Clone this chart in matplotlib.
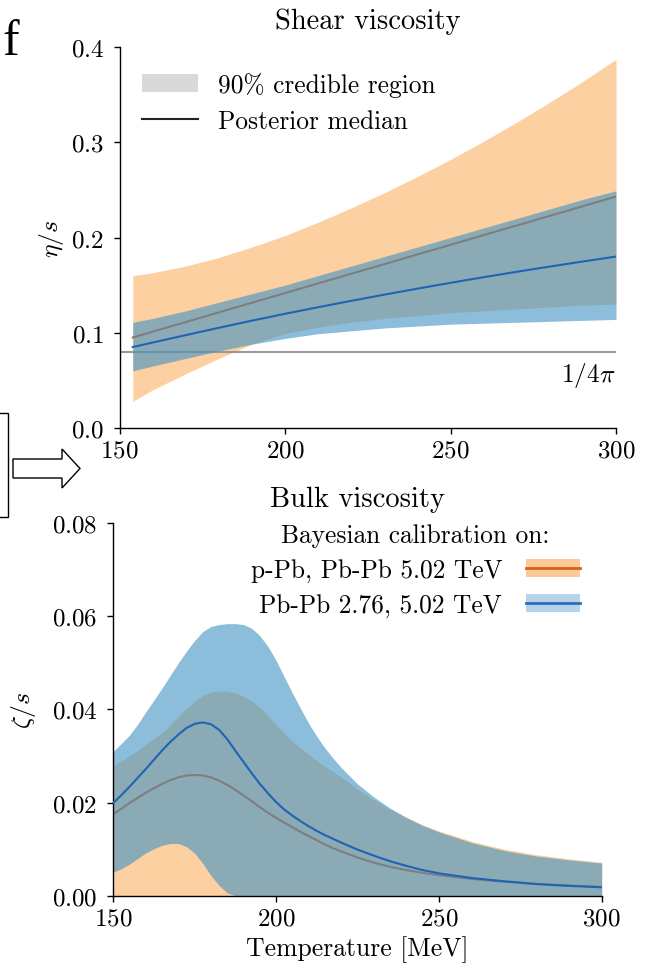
import matplotlib
matplotlib.use("Agg")
import matplotlib.pyplot as plt
from matplotlib.patches import Patch, Rectangle, Polygon
from matplotlib.lines import Line2D
import numpy as np

plt.rcParams['font.family'] = ['cmr10', 'DejaVu Serif']
plt.rcParams['mathtext.fontset'] = 'cm'
plt.rcParams['axes.formatter.use_mathtext'] = True
plt.rcParams['axes.unicode_minus'] = False

# ---------------- data ----------------
# Shear viscosity (eta/s) vs temperature [MeV]
shear_T = [154, 160, 170, 180, 190, 200, 210, 220, 230, 240, 250, 260, 270, 280, 290, 300]
shear_orange_hi = [0.160, 0.163, 0.170, 0.179, 0.190, 0.202, 0.216, 0.231, 0.247, 0.264,
                   0.282, 0.301, 0.321, 0.342, 0.364, 0.387]
shear_orange_lo = [0.028, 0.040, 0.057, 0.073, 0.088, 0.099, 0.106, 0.111, 0.115, 0.118,
                   0.121, 0.123, 0.125, 0.127, 0.129, 0.130]
shear_orange_med = [0.0950, 0.1011, 0.1112, 0.1214, 0.1315, 0.1416, 0.1518, 0.1619, 0.1720,
                    0.1822, 0.1923, 0.2025, 0.2126, 0.2227, 0.2329, 0.2430]
shear_blue_hi = [0.111, 0.115, 0.123, 0.132, 0.141, 0.150, 0.160, 0.170, 0.180, 0.190,
                 0.200, 0.210, 0.220, 0.230, 0.240, 0.249]
shear_blue_lo = [0.060, 0.065, 0.073, 0.081, 0.088, 0.094, 0.099, 0.102, 0.105, 0.107,
                 0.109, 0.110, 0.111, 0.112, 0.113, 0.114]
shear_blue_med = [0.0850, 0.0897, 0.0975, 0.1052, 0.1127, 0.1199, 0.1268, 0.1335, 0.1400,
                  0.1463, 0.1524, 0.1583, 0.1640, 0.1695, 0.1748, 0.1800]
kss_bound = 1 / (4 * np.pi)

# Bulk viscosity (zeta/s) vs temperature [MeV]
bulk_T = [150, 152.5, 155, 157.5, 160, 162.5, 165, 167.5, 170, 172.5, 175, 177.5, 180,
          182.5, 185, 187.5, 190, 192.5, 195, 197.5, 200, 202.5, 205, 207.5, 210, 212.5,
          215, 217.5, 220, 225, 230, 235, 240, 245, 250, 260, 270, 280, 290, 300]
bulk_orange_hi = [0.0279, 0.0289, 0.0300, 0.0312, 0.0325, 0.0337, 0.0350, 0.0367, 0.0385,
                  0.0402, 0.0418, 0.0430, 0.0437, 0.0439, 0.0439, 0.0435, 0.0428, 0.0418,
                  0.0404, 0.0386, 0.0367, 0.0349, 0.0332, 0.0317, 0.0303, 0.0290, 0.0278,
                  0.0266, 0.0255, 0.0229, 0.0206, 0.0185, 0.0168, 0.0152, 0.0139, 0.0117,
                  0.0100, 0.0088, 0.0079, 0.0072]
bulk_orange_lo = [0.0] * 40
bulk_orange_med = [0.0175, 0.0187, 0.0199, 0.0210, 0.0221, 0.0231, 0.0240, 0.0248, 0.0254,
                   0.0258, 0.0259, 0.0258, 0.0254, 0.0247, 0.0238, 0.0227, 0.0215, 0.0203,
                   0.0190, 0.0178, 0.0167, 0.0157, 0.0147, 0.0137, 0.0128, 0.0119, 0.0110,
                   0.0102, 0.0095, 0.0082, 0.0071, 0.0062, 0.0055, 0.0049, 0.0044, 0.0036,
                   0.0030, 0.0025, 0.0022, 0.0019]
bulk_blue_hi = [0.0310, 0.0327, 0.0345, 0.0368, 0.0395, 0.0420, 0.0446, 0.0473, 0.0500,
                0.0525, 0.0548, 0.0567, 0.0578, 0.0582, 0.0584, 0.0584, 0.0582, 0.0574,
                0.0558, 0.0535, 0.0505, 0.0470, 0.0435, 0.0402, 0.0370, 0.0342, 0.0317,
                0.0295, 0.0275, 0.0240, 0.0212, 0.0188, 0.0168, 0.0151, 0.0137, 0.0114,
                0.0097, 0.0085, 0.0077, 0.0070]
bulk_blue_lo = [0.0051, 0.0058, 0.0068, 0.0080, 0.0092, 0.0101, 0.0108, 0.0112, 0.0112,
                0.0105, 0.0091, 0.0069, 0.0043, 0.0022, 0.0006, 0.0, 0.0, 0.0, 0.0, 0.0,
                0.0, 0.0, 0.0, 0.0, 0.0, 0.0, 0.0, 0.0, 0.0, 0.0, 0.0, 0.0, 0.0, 0.0, 0.0,
                0.0, 0.0, 0.0, 0.0, 0.0]
bulk_blue_med = [0.0199, 0.0216, 0.0234, 0.0253, 0.0272, 0.0292, 0.0312, 0.0330, 0.0346,
                 0.0360, 0.0369, 0.0372, 0.0368, 0.0356, 0.0336, 0.0311, 0.0287, 0.0263,
                 0.0240, 0.0220, 0.0201, 0.0185, 0.0172, 0.0160, 0.0149, 0.0139, 0.0130,
                 0.0122, 0.0114, 0.0099, 0.0086, 0.0074, 0.0064, 0.0055, 0.0048, 0.0038,
                 0.0031, 0.0025, 0.0021, 0.0018]

labels = ['p-Pb, Pb-Pb 5.02 TeV', 'Pb-Pb 2.76, 5.02 TeV']

# ---------------- style ----------------
c_orange_fill = '#fcd0a0'
c_orange_line = '#d8601a'
c_blue_fill = '#3f93c5'
c_blue_alpha = 0.6
c_blue_line = '#1f64b4'
FS_TICK = 18
FS_LEG = 18.3
FS_TITLE = 20.5
FS_LAB = 18.5

W, H = 647, 970
fig = plt.figure(figsize=(W / 100, H / 100), dpi=100)

def fx(px):
    return px / W

def fy(py):
    return 1 - py / H

ax1 = fig.add_axes([fx(119.5), fy(429), fx(616) - fx(119.5), fy(48) - fy(429)])
ax2 = fig.add_axes([fx(113.3), fy(896.7), fx(601.7) - fx(113.3), fy(524) - fy(896.7)])

for ax in (ax1, ax2):
    ax.spines['top'].set_visible(False)
    ax.spines['right'].set_visible(False)
    ax.spines['left'].set_linewidth(1.0)
    ax.spines['bottom'].set_linewidth(1.0)
    ax.tick_params(axis='both', direction='out', length=4.3, width=1.0,
                   labelsize=FS_TICK)
    ax.tick_params(axis='x', pad=4.0)
    ax.tick_params(axis='y', pad=7.0)
    ax.set_xlim(150, 300)
    ax.set_xticks([150, 200, 250, 300])

# ---- top panel: shear ----
ax1.fill_between(shear_T, shear_orange_lo, shear_orange_hi, color=c_orange_fill, lw=0,
                 zorder=1)
ax1.plot(shear_T, shear_orange_med, color=c_orange_line, lw=1.5, zorder=1.5)
ax1.fill_between(shear_T, shear_blue_lo, shear_blue_hi, color=c_blue_fill,
                 alpha=c_blue_alpha, lw=0, zorder=2)
ax1.plot(shear_T, shear_blue_med, color=c_blue_line, lw=1.5, zorder=3)
ax1.axhline(kss_bound, color='#999999', lw=1.5, zorder=1.2)
ax1.text(300, 0.071, r'$1/4\pi$', ha='right', va='top', fontsize=FS_LEG)
ax1.set_ylim(0, 0.4)
ax1.set_yticks([0.0, 0.1, 0.2, 0.3, 0.4])
ax1.set_ylabel(r'$\eta/s$', fontsize=FS_LAB)
ax1.yaxis.set_label_coords(-0.108, 0.5)
ax1.set_title('Shear viscosity', fontsize=FS_TITLE, pad=14)

leg1 = ax1.legend(handles=[Patch(facecolor='#d9d9d9', edgecolor='none'),
                           Line2D([], [], color='#222222', lw=1.5)],
                  labels=['90% credible region', 'Posterior median'],
                  loc='upper left', bbox_to_anchor=(0.045, 0.935), frameon=False,
                  fontsize=FS_LEG, handlelength=2.2, handletextpad=0.8,
                  labelspacing=0.5, borderpad=0, borderaxespad=0)

# ---- bottom panel: bulk ----
ax2.fill_between(bulk_T, bulk_orange_lo, bulk_orange_hi, color=c_orange_fill, lw=0,
                 zorder=1)
ax2.plot(bulk_T, bulk_orange_med, color=c_orange_line, lw=1.5, zorder=1.5)
ax2.fill_between(bulk_T, bulk_blue_lo, bulk_blue_hi, color=c_blue_fill,
                 alpha=c_blue_alpha, lw=0, zorder=2)
ax2.plot(bulk_T, bulk_blue_med, color=c_blue_line, lw=1.5, zorder=3)
ax2.set_ylim(0, 0.08)
ax2.set_yticks([0.0, 0.02, 0.04, 0.06, 0.08])
ax2.set_ylabel(r'$\zeta/s$', fontsize=FS_LAB)
ax2.yaxis.set_label_coords(-0.154, 0.5)
ax2.set_xlabel('Temperature [MeV]', fontsize=FS_LAB, labelpad=4)
ax2.set_title('Bulk viscosity', fontsize=FS_TITLE, pad=12)

h_orange = (Patch(facecolor='#fdc997', edgecolor='none'),
            Line2D([], [], color=c_orange_line, lw=2))
h_blue = (Patch(facecolor='#b5d3ea', edgecolor='none'),
          Line2D([], [], color='#2b6eb4', lw=2))
leg2 = ax2.legend(handles=[h_orange, h_blue], labels=labels,
                  title='Bayesian calibration on:', title_fontsize=FS_LEG,
                  loc='upper right', bbox_to_anchor=(0.955, 1.0), frameon=False,
                  fontsize=FS_LEG, markerfirst=False, handlelength=2.1,
                  handletextpad=0.95, labelspacing=0.45, borderpad=0, borderaxespad=0)

# ---- panel letter and decorations from the surrounding figure ----
fig.text(fx(2), fy(55), 'f', family='Liberation Serif', fontsize=36, va='baseline',
         ha='left')
fig.patches.append(Rectangle((fx(-5), fy(518)), fx(13), fy(414) - fy(518),
                             transform=fig.transFigure, fill=False, lw=1.0,
                             edgecolor='black'))
arrow_px = [(13, 460), (62, 460), (62, 450), (80, 469.5), (62, 489), (62, 479), (13, 479)]
fig.patches.append(Polygon([(fx(x), fy(y)) for x, y in arrow_px], closed=True,
                           transform=fig.transFigure, fill=False, lw=1.0,
                           edgecolor='black'))

fig.savefig('out.png', dpi=100)
